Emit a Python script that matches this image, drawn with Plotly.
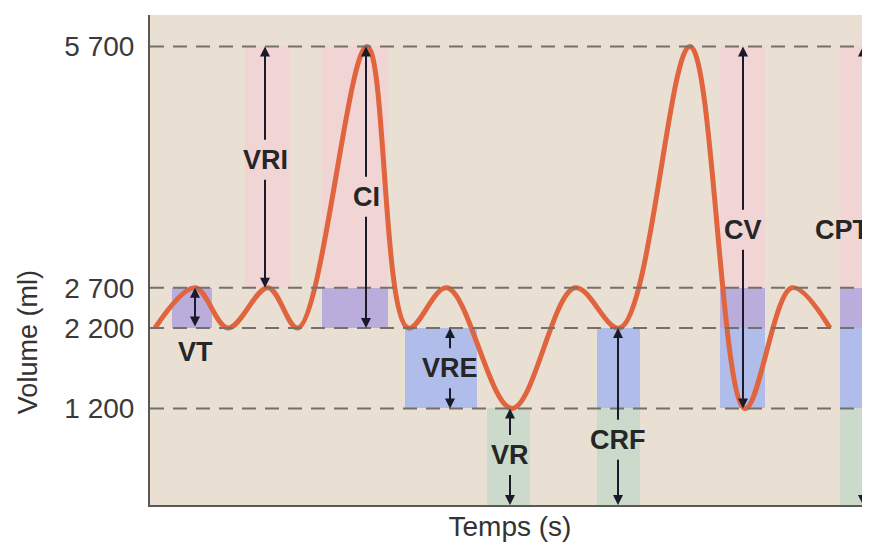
import plotly.graph_objects as go

# spirogramme : extremums de la courbe (temps arbitraire, volume en ml)
curve_t = [5, 45, 78, 118, 148, 217, 258, 297, 362, 425, 470, 540, 595, 642, 680]
curve_v = [2200, 2700, 2200, 2700, 2200, 5700, 2200, 2700, 1200, 2700, 2200, 5700, 1200, 2700, 2200]

levels = [1200, 2200, 2700, 5700]
level_labels = ["1 200", "2 200", "2 700", "5 700"]

# bandes colorees : colonne (debut, fin), bas, haut, couleur
band_x0 = [22, 95, 172, 172, 255, 337, 447, 447, 570, 570, 570, 690, 690, 690, 690]
band_x1 = [62, 140, 238, 238, 327, 380, 490, 490, 615, 615, 615, 740, 740, 740, 740]
band_lo = [2200, 2700, 2700, 2200, 1200, 0, 1200, 0, 2700, 2200, 1200, 2700, 2200, 1200, 0]
band_hi = [2700, 5700, 5700, 2700, 2200, 1200, 2200, 1200, 5700, 2700, 2200, 5700, 2700, 2200, 1200]
pink, purple, blue, green = "#f1d4d4", "#b2a4dc", "#a6b6ec", "#c6d9c8"
band_col = [purple, pink, pink, purple, blue, green, blue, green,
            pink, purple, blue, pink, purple, blue, green]

# etiquettes et fleches
lab_text = ["VT", "VRI", "CI", "VRE", "VR", "CRF", "CV", "CPT"]
lab_t = [45, 115, 216, 300, 360, 468, 593, 692]
lab_v = [1900, 4290, 3830, 1700, 620, 810, 3420, 3420]
arrow_t = [45, 115, 216, 300, 360, 468, 593, 713]
arrow_top = [2700, 5700, 5700, 2200, 1200, 2200, 5700, 5700]
arrow_bot = [2200, 2700, 2200, 1200, 0, 0, 1200, 0]

fig = go.Figure()

for x0, x1, lo, hi, c in zip(band_x0, band_x1, band_lo, band_hi, band_col):
    fig.add_trace(go.Bar(x=[(x0 + x1) / 2], y=[hi - lo], base=[lo], width=[x1 - x0],
                         marker=dict(color=c, line_width=0), opacity=0.85,
                         hoverinfo="skip", showlegend=False))

for lv in levels:
    fig.add_hline(y=lv, line=dict(color="#74706b", width=2, dash="14px,9px"), layer="above")

fig.add_trace(go.Scatter(x=curve_t, y=curve_v, mode="lines",
                         line=dict(color="#e0643e", width=5, shape="spline", smoothing=1.0),
                         hoverinfo="skip", showlegend=False))

gap = 230
for i, name in enumerate(lab_text):
    t = arrow_t[i]
    if name == "VT":
        fig.add_annotation(x=t, y=arrow_top[i], ax=t, ay=arrow_bot[i], axref="x", ayref="y",
                           xref="x", yref="y", showarrow=True, arrowhead=2, startarrowhead=2,
                           arrowside="end+start", arrowwidth=2, arrowcolor="#1a1a2a", text="")
    else:
        fig.add_annotation(x=t, y=arrow_top[i], ax=t, ay=lab_v[i] + gap, axref="x", ayref="y",
                           xref="x", yref="y", showarrow=True, arrowhead=2, arrowsize=1,
                           arrowwidth=2, arrowcolor="#1a1a2a", text="")
        fig.add_annotation(x=t, y=arrow_bot[i], ax=t, ay=lab_v[i] - gap, axref="x", ayref="y",
                           xref="x", yref="y", showarrow=True, arrowhead=2, arrowsize=1,
                           arrowwidth=2, arrowcolor="#1a1a2a", text="")
    fig.add_annotation(x=lab_t[i], y=lab_v[i], xref="x", yref="y", text="<b>%s</b>" % name,
                       showarrow=False, font=dict(size=27, color="#262626", family="Liberation Sans"))

fig.add_annotation(x=-0.169, y=0.333, xref="paper", yref="paper", text="Volume (ml)",
                   textangle=-90, showarrow=False, xanchor="center", yanchor="middle",
                   font=dict(size=27, color="#333333", family="Liberation Sans"))

fig.update_layout(
    width=862, height=534,
    margin=dict(l=142, r=0, t=7, b=37),
    paper_bgcolor="white", plot_bgcolor="#e9dfd3",
    barmode="overlay", bargap=0,
    font=dict(family="Liberation Sans", color="#333333"),
    xaxis=dict(range=[0, 720], showgrid=False, zeroline=False, showticklabels=False,
               showline=True, linecolor="#5a5855", linewidth=2,
               title=dict(text="Temps (s)", font=dict(size=28), standoff=11)),
    yaxis=dict(range=[0, 6090], showgrid=False, zeroline=False, tickvals=levels,
               ticktext=level_labels, ticks="", ticklabelstandoff=8,
               tickfont=dict(size=28, color="#3a3a3a"),
               showline=True, linecolor="#5a5855", linewidth=2),
)

fig.write_html("out.html")
